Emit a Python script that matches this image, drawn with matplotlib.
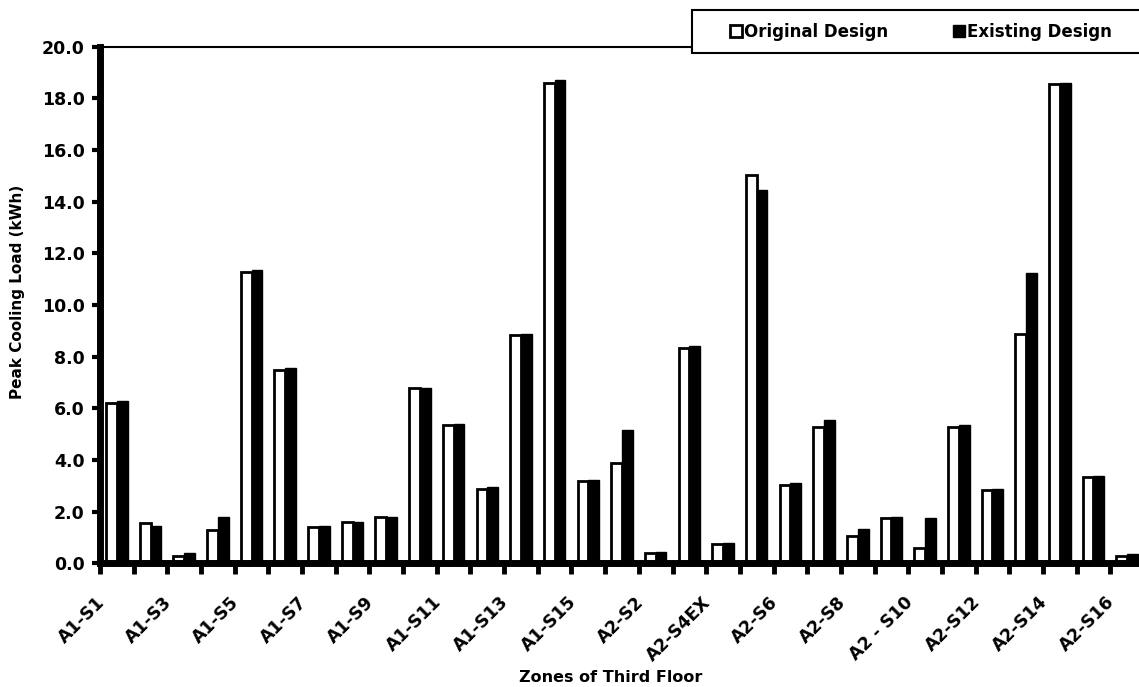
import numpy as np
import matplotlib
matplotlib.use("Agg")
import matplotlib.pyplot as plt
from matplotlib.patches import Rectangle
from matplotlib.transforms import ScaledTranslation

# Zones of the third floor and their peak cooling loads (kWh)
zones = ["A1-S1", "A1-S2", "A1-S3", "A1-S4", "A1-S5", "A1-S6", "A1-S7", "A1-S8",
         "A1-S9", "A1-S10", "A1-S11", "A1-S12", "A1-S13", "A1-S14", "A1-S15",
         "A2-S1", "A2-S2", "A2-S3", "A2-S4EX", "A2-S5", "A2-S6", "A2-S7", "A2-S8",
         "A2-S9", "A2 - S10", "A2-S11", "A2-S12", "A2-S13", "A2-S14", "A2-S15", "A2-S16"]

original = [6.2, 1.55, 0.3, 1.3, 11.3, 7.5, 1.4, 1.6, 1.8, 6.8, 5.35, 2.9, 8.85, 18.6, 3.2,
            3.9, 0.4, 8.35, 0.75, 15.05, 3.05, 5.3, 1.05, 1.75, 0.6, 5.3, 2.85, 8.9, 18.55, 3.35, 0.3]
existing = [6.3, 1.45, 0.4, 1.8, 11.35, 7.55, 1.45, 1.6, 1.8, 6.8, 5.4, 2.95, 8.9, 18.7, 3.25,
            5.15, 0.45, 8.4, 0.8, 14.45, 3.1, 5.55, 1.35, 1.8, 1.75, 5.35, 2.9, 11.25, 18.6, 3.4, 0.35]

yticks = np.arange(0, 20.1, 2.0)

plt.rcParams["font.family"] = "DejaVu Sans"
plt.rcParams["font.weight"] = "bold"

fig = plt.figure(figsize=(11.39, 6.87), dpi=100)
ax = fig.add_axes([0.0878, 0.1798, 0.9166, 0.7522])

x = np.arange(len(zones))
w = 0.32
b1 = ax.bar(x - w / 2, original, w, color="white", edgecolor="black", linewidth=2,
            label="Original Design", zorder=2)
b2 = ax.bar(x + w / 2, existing, w, color="black", edgecolor="black", linewidth=1,
            label="Existing Design", zorder=2)

ax.set_xlim(-0.5, len(zones) - 0.5)
ax.set_ylim(0, 20)

# frame
for s in ["left", "bottom"]:
    ax.spines[s].set_linewidth(5)
ax.spines["top"].set_linewidth(1.5)
ax.spines["right"].set_visible(False)

ax.set_yticks(yticks)
ax.set_yticklabels([f"{v:.1f}" for v in yticks], fontsize=12.5, fontweight="bold")
ax.tick_params(axis="y", direction="out", length=6, width=3, pad=5)

# labels every other zone, tick marks on category boundaries
ax.set_xticks(x[::2])
ax.set_xticklabels(zones[::2], fontsize=12.5, fontweight="bold", rotation=45,
                   ha="right", va="center", rotation_mode="anchor")
ax.set_xticks(np.arange(-0.5, len(zones)), minor=True)
ax.tick_params(axis="x", which="major", length=0, pad=26)
ax.tick_params(axis="x", which="minor", direction="out", length=8, width=3.5)
shift = ScaledTranslation(-0.15, 0, fig.dpi_scale_trans)
for lab in ax.get_xticklabels():
    lab.set_transform(lab.get_transform() + shift)

fig.text(18 / 1139, 1 - 292 / 687, "Peak Cooling Load (kWh)", rotation=90,
         ha="center", va="center", fontsize=11, fontweight="bold")
fig.text(611 / 1139, 1 - 677 / 687, "Zones of Third Floor",
         ha="center", va="center", fontsize=11.5, fontweight="bold")

# legend box across the top right
fig.patches.append(Rectangle((692 / 1139, 1 - 53 / 687), (1170 - 692) / 1139, 43 / 687,
                             transform=fig.transFigure, facecolor="white",
                             edgecolor="black", linewidth=1.5, zorder=3))
fig.legend(handles=[b1, b2], loc="center left", ncol=2, frameon=False,
           bbox_to_anchor=(730 / 1139, 1 - 32 / 687), borderpad=0, borderaxespad=0,
           handlelength=0.7, handleheight=0.7, handletextpad=0.15,
           columnspacing=3.9, prop={"size": 12, "weight": "bold"}).set_zorder(4)

fig.savefig("out.png", dpi=100)
